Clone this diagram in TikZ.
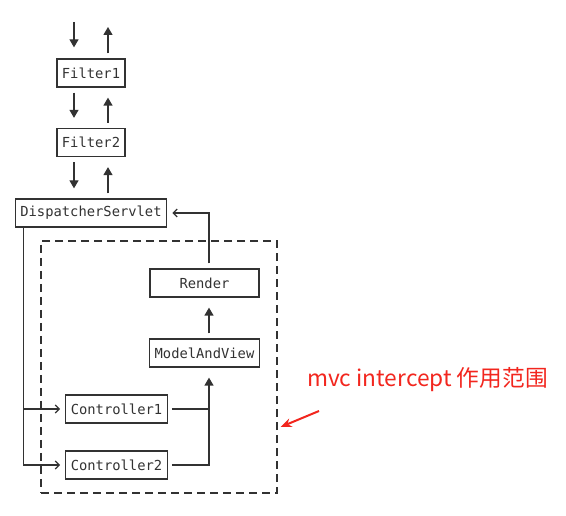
\documentclass[tikz,border=0pt]{standalone}
\usepackage{fontspec}
\setmonofont{DejaVu Sans Mono}
\newfontfamily\cjkfont{Noto Sans CJK SC}
\usetikzlibrary{arrows.meta}
\definecolor{ink}{RGB}{50,50,50}
\definecolor{hintred}{RGB}{242,38,30}

\begin{document}
\begin{tikzpicture}[x=1pt, y=-1pt,
  box/.style={draw=ink, line width=1.3pt, text=ink, inner xsep=5pt, minimum height=28pt,
    font=\ttfamily\fontsize{13.8}{16}\selectfont},
  widebox/.style={box, minimum width=109pt},
  line/.style={draw=ink, line width=1.3pt},
  tri/.style={line, -{Triangle[length=8pt,width=9pt]}, shorten <=5pt, shorten >=10pt},
  chev/.style={line, -{Straight Barb[length=4pt,width=8pt]}, shorten >=5pt},
]
	\useasboundingbox (0,0) rectangle (566,516);
	% filter chain
	\node[box] (filter1) at (91,73) {Filter1};
	\node[box] (filter2) at (91,142.5) {Filter2};
	\node[box] (dispatcher) at (91,213) {DispatcherServlet};
	% mvc part
	\node[draw=ink, line width=1.3pt, dash pattern=on 8pt off 5pt,
	  minimum width=236pt, minimum height=252pt] (mvcscope) at (159,367) {};
	\node[widebox] (render) at (204.5,283) {Render};
	\node[widebox] (mav) at (204.5,353) {ModelAndView};
	\node[box] (ctrl1) at (116.5,409) {Controller1};
	\node[box] (ctrl2) at (116.5,465) {Controller2};
	% request in, response out
	\coordinate (reqin) at (74,22);
	\coordinate (respout) at (108,27);
	\draw[tri, shorten <=0pt, shorten >=11pt] (reqin) -- (reqin |- filter1.north);
	\draw[tri, shorten >=0pt] (respout |- filter1.north) -- (respout);
	\draw[tri] (reqin |- filter1.south) -- (reqin |- filter2.north);
	\draw[tri] (respout |- filter2.north) -- (respout |- filter1.south);
	\draw[tri] (reqin |- filter2.south) -- (reqin |- dispatcher.north);
	\draw[tri] (respout |- dispatcher.north) -- (respout |- filter2.south);
	% dispatcher to controllers
	\draw[chev] ([xshift=9pt]dispatcher.south west) |- (ctrl1.west);
	\draw[chev] ([xshift=9pt]dispatcher.south west) |- (ctrl2.west);
	% controllers to view
	\coordinate (mvin) at ([xshift=4.5pt]mav.south);
	\draw[line, shorten <=4pt] (ctrl1.east) -- (ctrl1.east -| mvin);
	\draw[tri, shorten <=4pt] (ctrl2.east) -| (mvin);
	\draw[tri] ([xshift=4.5pt]mav.north) -- ([xshift=4.5pt]render.south);
	\draw[chev, shorten <=5pt] ([xshift=4.5pt]render.north) |- (dispatcher.east);
	% red hint
	\node[text=hintred, inner sep=0pt, anchor=west,
	  font=\cjkfont\fontsize{22.7}{27}\selectfont] (hint) at (307,380) {mvc intercept 作用范围};
	\coordinate (hinttail) at (319,411);
	\draw[hintred, line width=2pt, -{Stealth[length=11pt,width=9pt]}]
	  (hinttail) -- ([xshift=3pt,yshift=-60pt]mvcscope.east);
\end{tikzpicture}
\end{document}
